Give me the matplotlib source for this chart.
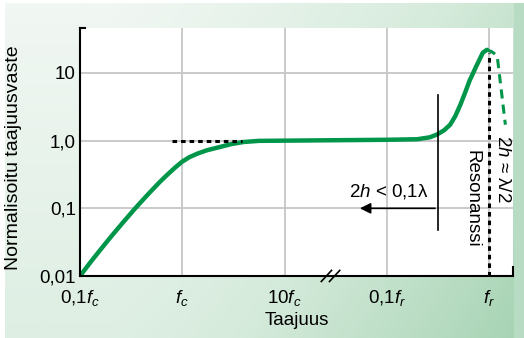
import numpy as np
import matplotlib
matplotlib.use("Agg")
import matplotlib.pyplot as plt
from matplotlib.colors import LinearSegmentedColormap
from matplotlib.patches import Rectangle

plt.rcParams['font.family'] = ['Liberation Sans', 'DejaVu Sans']
plt.rcParams['mathtext.fontset'] = 'custom'
plt.rcParams['mathtext.rm'] = 'Liberation Sans'
plt.rcParams['mathtext.it'] = 'Liberation Sans:italic'

# data (x in tick units, y normalised response)
curve_x = [0.00, 0.10, 0.20, 0.30, 0.42, 0.54, 0.66, 0.78, 0.86, 0.93, 1.00, 1.07,
           1.15, 1.24, 1.36, 1.48, 1.60, 1.75, 2.00, 3.00, 3.30, 3.42, 3.49, 3.56,
           3.62, 3.67, 3.72, 3.77, 3.81, 3.88, 3.94, 3.98]
curve_y = [0.010, 0.0158, 0.0245, 0.0376, 0.0617, 0.100, 0.158, 0.245, 0.32, 0.40, 0.49, 0.57,
           0.645, 0.72, 0.80, 0.89, 0.955, 0.993, 1.00, 1.03, 1.05, 1.12, 1.23, 1.42,
           1.72, 2.3, 3.4, 5.3, 7.7, 13.0, 20.0, 22.0]
drop_x = [3.98, 4.03, 4.08, 4.16]
drop_y = [22.0, 20.5, 18.0, 1.72]

tick_pos = [0, 1, 2, 3, 4]
tick_labels = [r'0,1$\mathit{f}_\mathit{c}$', r'$\mathit{f}_\mathit{c}$',
               r'10$\mathit{f}_\mathit{c}$', r'0,1$\mathit{f}_\mathit{r}$',
               r'$\mathit{f}_\mathit{r}$']
ytick_pos = [0.01, 0.1, 1, 10]
ytick_labels = ['0,01', '0,1', '1,0', '10']

green = '#00964a'
W, H = 524, 338
fig = plt.figure(figsize=(W / 100, H / 100), dpi=100)

# green gradient panel behind the chart
bg = fig.add_axes([0, 0, 1, 1])
bg.set_axis_off()
gx, gy = np.meshgrid(np.linspace(0, 1, 300), np.linspace(0, 1, 300))
t = 0.65 * np.clip((gx - 0.2) / 0.8, 0, 1) ** 1.2 + 0.35 * gy
cmap = LinearSegmentedColormap.from_list('g', ['#f1f7f3', '#d6ebdc', '#a6d3b3'])
bg.imshow(t, cmap=cmap, vmin=0, vmax=1, aspect='auto', origin='upper',
          extent=[5 / W, 1, 0, 1 - 3 / H])
bg.add_patch(Rectangle((514 / W, 0), 1, 1 - 3 / H, color='#b8dcc3', lw=0))
bg.set_xlim(0, 1)
bg.set_ylim(0, 1)

left, right, top, bottom = 80, 513, 28, 276
ax = fig.add_axes([left / W, 1 - bottom / H, (right - left) / W, (bottom - top) / H])
ax.set_facecolor('white')
ax.set_yscale('log')
ax.set_xlim(0, (right - left) / 102.25)
ax.set_ylim(0.01, 10 ** (1 + 45 / 67.7))

ax.set_xticks(tick_pos)
ax.set_xticklabels(tick_labels, fontsize=13.5)
ax.set_yticks(ytick_pos)
ax.set_yticklabels(ytick_labels, fontsize=13.5)
ax.minorticks_off()
ax.tick_params(axis='x', length=0, pad=9)
ax.tick_params(axis='y', length=0, pad=3)
ax.grid(True, color='#c6c6c6', lw=1.3)
ax.set_axisbelow(True)
for s in ['top', 'right']:
    ax.spines[s].set_visible(False)
for s in ['left', 'bottom']:
    ax.spines[s].set_linewidth(1.5)

ax.set_xlabel('Taajuus', fontsize=13.5)
ax.xaxis.set_label_coords((297 - left) / (right - left), -(312 - bottom) / (bottom - top))
ax.set_ylabel('Normalisoitu taajuusvaste', fontsize=14)
ax.yaxis.set_label_coords(-(left - 22) / (right - left), 0.478)

# small end marks of the axes
ax.plot([0, 0.05], [ax.get_ylim()[1]] * 2, color='black', lw=1.5, clip_on=False)
ax.plot([ax.get_xlim()[1]] * 2, [0.01, 0.0135], color='black', lw=1.5, clip_on=False)

ax.plot(curve_x, curve_y, color=green, lw=3.2, solid_capstyle='round', solid_joinstyle='round')
ax.plot(drop_x, drop_y, color=green, lw=2.2, ls=(0, (3, 2)))

ax.plot([0.90, 1.58], [1.0, 1.0], color='black', lw=2.2, ls=(0, (1.5, 1.3)))
ax.plot([4, 4], [0.01, 20], color='black', lw=2.2, ls=(0, (1.5, 1.3)), clip_on=False)

ax.plot([3.5, 3.5], [0.048, 4.7], color='black', lw=1.2)
ax.annotate('', xy=(2.71, 0.1), xytext=(3.5, 0.1),
            arrowprops=dict(arrowstyle='-|>', color='black', lw=1.2, mutation_scale=16))
ax.text(3.02, 0.18, r'2$\mathit{h}$ < 0,1λ', fontsize=13.5, ha='center', va='center')
ax.text(3.83, 0.736, 'Resonanssi', fontsize=13.5, rotation=-90, ha='center', va='top')
ax.text(4.13, 1.23, r'2$\mathit{h}$ ≈ λ/2', fontsize=13.5, rotation=-90, ha='center', va='top')

# axis break mark
for dx in (-0.04, 0.04):
    ax.plot([2.40 + dx, 2.50 + dx], [0.0083, 0.0121], color='black', lw=1.2, clip_on=False)

fig.savefig('out.png', dpi=100)
